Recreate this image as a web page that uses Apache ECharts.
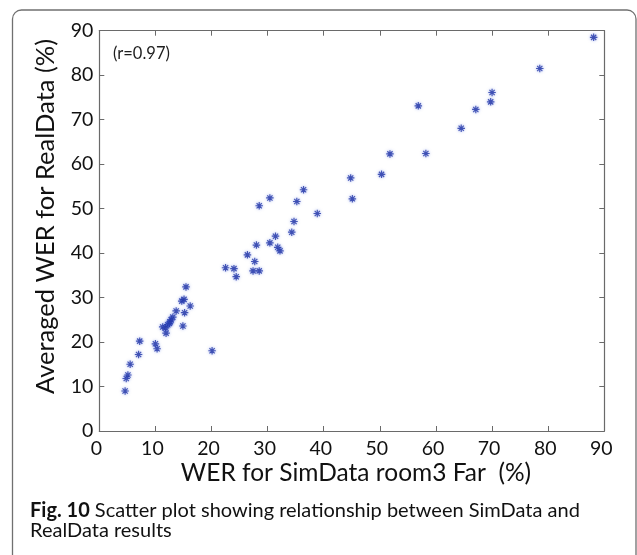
<!DOCTYPE html>
<html>
<head>
<meta charset="utf-8">
<script src="https://cdn.jsdelivr.net/npm/echarts@6/dist/echarts.min.js"></script>
<style>
html,body{margin:0;padding:0;background:#fff;}
#c{width:637px;height:555px;}
</style>
</head>
<body>
<div id="c"></div>
<script>
// Simulated-data WER (x) vs averaged real-data WER (y), in %
const simWER = [4.6, 4.8, 5.1, 5.5, 7.0, 7.2, 10.0, 10.3, 11.9, 11.3, 12.2, 12.5, 12.6, 13.1, 13.7, 14.9, 15.2, 14.7, 15.1, 15.45, 16.2, 20.1, 22.5, 24.0, 24.4, 26.4, 27.7, 27.4, 28.5, 28.0, 28.5, 30.4, 30.4, 31.4, 31.8, 32.2, 34.3, 34.7, 35.2, 36.4, 38.85, 44.8, 45.1, 50.3, 51.8, 58.2, 56.85, 64.5, 67.1, 69.75, 70.0, 78.5, 88.1, 12.8, 11.8];
const realWER = [9.0, 11.8, 12.6, 15.0, 17.2, 20.2, 19.6, 18.5, 22.0, 23.4, 23.9, 24.2, 24.5, 25.6, 27.0, 23.6, 26.6, 29.2, 29.6, 32.4, 28.1, 18.05, 36.7, 36.5, 34.7, 39.6, 38.1, 36.0, 36.0, 41.8, 50.65, 52.4, 42.3, 43.8, 41.3, 40.5, 44.7, 47.1, 51.6, 54.25, 48.9, 56.9, 52.2, 57.7, 62.3, 62.4, 73.1, 68.05, 72.3, 74.0, 76.1, 81.5, 88.5, 25.0, 23.2];
const xTicks = [0, 10, 20, 30, 40, 50, 60, 70, 80, 90];
const yTicks = [0, 10, 20, 30, 40, 50, 60, 70, 80, 90];
const xTitle = 'WER for SimData room3 Far  (%)';
const yTitle = 'Averaged WER for RealData (%)';
const note = '(r=0.97)';
const captionBold = 'Fig. 10';
const captionText = ' Scatter plot showing relationship between SimData and';
const captionLine2 = 'RealData results';

const FONT = 'Lato';
const points = simWER.map((x, i) => [x, realWER[i]]);
const star = 'path://M10 0L10 20M0 10L20 10M3 3L17 17M3 17L17 3';

const axisCommon = {
  min: xTicks[0], max: xTicks[xTicks.length - 1], interval: xTicks[1] - xTicks[0],
  axisLine: {show: true, onZero: false, lineStyle: {color: '#6a6a6a', width: 1.2}},
  axisTick: {show: true, inside: true, length: 5, lineStyle: {color: '#6a6a6a', width: 1}},
  splitLine: {show: false}
};

const chart = echarts.init(document.getElementById('c'), null, {renderer: 'canvas'});
chart.setOption({
  animation: false,
  grid: {left: 99.3, right: 32.7, top: 30.7, bottom: 124},
  xAxis: [
    Object.assign({}, axisCommon, {
      type: 'value', position: 'bottom',
      axisLabel: {show: true, margin: 8, fontFamily: FONT, fontSize: 19.5, color: '#111', padding: [0, 6, 0, 0],
        formatter: v => xTicks.includes(v) ? String(v) : ''}
    }),
    Object.assign({}, axisCommon, {type: 'value', position: 'top', axisLabel: {show: false}})
  ],
  yAxis: [
    Object.assign({}, axisCommon, {
      type: 'value', position: 'left', min: yTicks[0], max: yTicks[yTicks.length - 1], interval: yTicks[1] - yTicks[0],
      axisLabel: {show: true, margin: 6, fontFamily: FONT, fontSize: 19.5, color: '#111', padding: [6, 0, 0, 0],
        formatter: v => yTicks.includes(v) ? String(v) : ''}
    }),
    Object.assign({}, axisCommon, {
      type: 'value', position: 'right', min: yTicks[0], max: yTicks[yTicks.length - 1], interval: yTicks[1] - yTicks[0],
      axisLabel: {show: false}
    })
  ],
  series: [{
    type: 'scatter',
    xAxisIndex: 0, yAxisIndex: 0,
    data: points,
    symbol: star,
    symbolSize: 7.5,
    itemStyle: {color: '#2336a6', borderColor: '#2336a6', borderWidth: 1.15,
      shadowBlur: 3, shadowColor: 'rgba(70,100,220,0.7)'}
  }],
  graphic: [
    {type: 'rect', shape: {x: 12.5, y: 10, width: 623.5, height: 600, r: [9, 9, 0, 0]},
      style: {fill: 'none', stroke: '#707070', lineWidth: 1.3}, silent: true},
    {type: 'text', x: 113, y: 54, style: {text: note, fontFamily: FONT, fontSize: 16.5, fill: '#1e1e1e', verticalAlign: 'middle'}},
    {type: 'text', x: 356, y: 473, style: {text: xTitle, fontFamily: FONT, fontSize: 24.5, fill: '#111', align: 'center', verticalAlign: 'middle'}},
    {type: 'text', x: 46, y: 216.5, rotation: Math.PI / 2,
      style: {text: yTitle, fontFamily: FONT, fontSize: 25.5, fill: '#111', align: 'center', verticalAlign: 'middle'}},
    {type: 'text', x: 30, y: 511,
      style: {text: '{b|' + captionBold + '}{n|' + captionText + '}', verticalAlign: 'middle',
        rich: {b: {fontFamily: FONT, fontSize: 20, fontWeight: 'bold', fill: '#111'},
               n: {fontFamily: FONT, fontSize: 20, fill: '#111'}}}},
    {type: 'text', x: 30, y: 531,
      style: {text: captionLine2, fontFamily: FONT, fontSize: 20, fill: '#111', verticalAlign: 'middle'}}
  ]
});
</script>
</body>
</html>
